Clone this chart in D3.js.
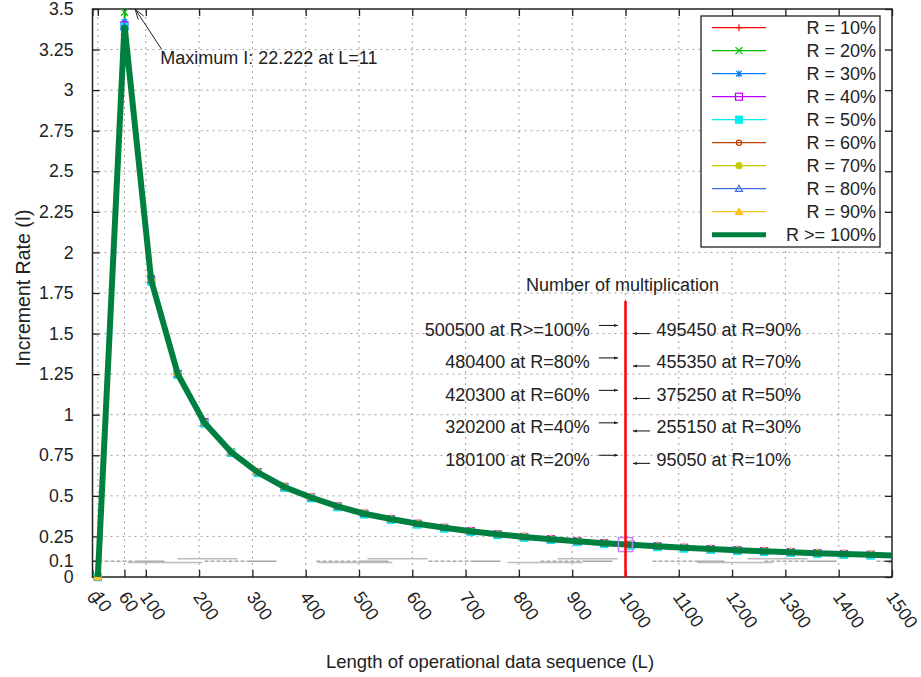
<!DOCTYPE html>
<html>
<head>
<meta charset="utf-8">
<script src="https://cdn.jsdelivr.net/npm/d3@7"></script>
<style>
  html, body { margin: 0; padding: 0; background: #fff; }
  svg { display: block; font-family: "Liberation Sans", Arial, sans-serif; }
</style>
</head>
<body>
<svg id="chart" width="921" height="677"></svg>
<script>
// ---------- data ----------
const lengths = [10, 60, 110, 160, 210, 260, 310, 360, 410, 460, 510, 560, 610, 660, 710,
                 760, 810, 860, 910, 960, 1010, 1060, 1110, 1160, 1210, 1260, 1310, 1360, 1410, 1460];
const r10 = [0, 3.38, 1.83, 1.25, 0.95, 0.77, 0.645, 0.555, 0.49, 0.435, 0.39, 0.357, 0.328, 0.303, 0.282,
             0.263, 0.247, 0.233, 0.22, 0.208, 0.198, 0.189, 0.18, 0.172, 0.165, 0.159, 0.153, 0.147, 0.142, 0.137];
const r20 = [0, 3.48, 1.84, 1.25, 0.95, 0.77, 0.645, 0.555, 0.49, 0.435, 0.39, 0.357, 0.328, 0.303, 0.282,
             0.263, 0.247, 0.233, 0.22, 0.208, 0.198, 0.189, 0.18, 0.172, 0.165, 0.159, 0.153, 0.147, 0.142, 0.137];
const r30 = [0, 3.42, 1.84, 1.25, 0.95, 0.77, 0.645, 0.555, 0.49, 0.435, 0.39, 0.357, 0.328, 0.303, 0.282,
             0.263, 0.247, 0.233, 0.22, 0.208, 0.198, 0.189, 0.18, 0.172, 0.165, 0.159, 0.153, 0.147, 0.142, 0.137];
const r40 = [0, 3.40, 1.83, 1.25, 0.955, 0.765, 0.645, 0.555, 0.49, 0.435, 0.39, 0.357, 0.328, 0.303, 0.282,
             0.263, 0.247, 0.233, 0.22, 0.208, 0.198, 0.189, 0.18, 0.172, 0.165, 0.159, 0.153, 0.147, 0.142, 0.137];
const r50 = [0, 3.39, 1.82, 1.245, 0.945, 0.765, 0.64, 0.55, 0.485, 0.43, 0.385, 0.352, 0.323, 0.298, 0.277,
             0.258, 0.242, 0.228, 0.215, 0.203, 0.193, 0.184, 0.175, 0.167, 0.16, 0.154, 0.148, 0.142, 0.137, 0.132];
const r60 = [0, 3.38, 1.83, 1.25, 0.95, 0.77, 0.645, 0.555, 0.49, 0.435, 0.39, 0.357, 0.328, 0.303, 0.282,
             0.263, 0.247, 0.233, 0.22, 0.208, 0.198, 0.189, 0.18, 0.172, 0.165, 0.159, 0.153, 0.147, 0.142, 0.137];
const r70 = [0, 3.37, 1.83, 1.25, 0.95, 0.77, 0.645, 0.555, 0.49, 0.435, 0.39, 0.357, 0.328, 0.303, 0.282,
             0.263, 0.247, 0.233, 0.22, 0.208, 0.198, 0.189, 0.18, 0.172, 0.165, 0.159, 0.153, 0.147, 0.142, 0.137];
const r80 = [0, 3.39, 1.83, 1.25, 0.95, 0.77, 0.645, 0.555, 0.49, 0.435, 0.39, 0.357, 0.328, 0.303, 0.282,
             0.263, 0.247, 0.233, 0.22, 0.208, 0.198, 0.189, 0.18, 0.172, 0.165, 0.159, 0.153, 0.147, 0.142, 0.137];
const r90 = [0, 3.36, 1.84, 1.26, 0.955, 0.775, 0.65, 0.56, 0.495, 0.44, 0.395, 0.362, 0.333, 0.308, 0.287,
             0.268, 0.252, 0.238, 0.225, 0.213, 0.203, 0.194, 0.185, 0.177, 0.17, 0.164, 0.158, 0.152, 0.147, 0.142];
const lengthsFull = [10, 60, 110, 160, 210, 260, 310, 360, 410, 460, 510, 560, 610, 660, 710,
                     760, 810, 860, 910, 960, 1010, 1060, 1110, 1160, 1210, 1260, 1310, 1360, 1410, 1460, 1500];
const r100 = [0, 3.40, 1.83, 1.25, 0.95, 0.77, 0.645, 0.555, 0.49, 0.435, 0.39, 0.357, 0.328, 0.303, 0.282,
              0.263, 0.247, 0.233, 0.22, 0.208, 0.198, 0.189, 0.18, 0.172, 0.165, 0.159, 0.153, 0.147, 0.142, 0.137, 0.133];

const seriesNames = ["R = 10%", "R = 20%", "R = 30%", "R = 40%", "R = 50%",
                     "R = 60%", "R = 70%", "R = 80%", "R = 90%", "R >= 100%"];
const seriesValues = [r10, r20, r30, r40, r50, r60, r70, r80, r90, r100];
const seriesColors = ["#ff0000", "#00c000", "#0080ff", "#c000ff", "#00eeee",
                      "#c04000", "#c8c800", "#4169e1", "#ffc020", "#008040"];
const seriesMarkers = ["plus", "cross", "star", "square", "squareFill",
                       "circle", "circleFill", "triangle", "triangleFill", "none"];

const xTicks = [0, 10, 60, 100, 200, 300, 400, 500, 600, 700, 800, 900, 1000, 1100, 1200, 1300, 1400, 1500];
const yTicks = [0, 0.1, 0.25, 0.5, 0.75, 1, 1.25, 1.5, 1.75, 2, 2.25, 2.5, 2.75, 3, 3.25, 3.5];

const leftNotes = ["500500 at R>=100%", "480400 at R=80%", "420300 at R=60%", "320200 at R=40%", "180100 at R=20%"];
const leftLevels = [1.55, 1.35, 1.15, 0.95, 0.75];
const rightNotes = ["495450 at R=90%", "455350 at R=70%", "375250 at R=50%", "255150 at R=30%", "95050 at R=10%"];
const rightLevels = [1.5, 1.3, 1.1, 0.9, 0.7];
const markLength = 1000, markTop = 1.7, markValue = 0.2;
const maxNote = "Maximum I: 22.222 at L=11";

// ---------- layout ----------
const svg = d3.select("#chart");
const x = d3.scaleLinear().domain([0, 1500]).range([92.5, 892]);
const y = d3.scaleLinear().domain([0, 3.5]).range([577, 9]);
const ink = "#222";

// grid
const grid = svg.append("g");
grid.selectAll("line.gx").data(xTicks.filter(t => t > 0 && t < 1500)).join("line")
  .attr("x1", d => x(d)).attr("x2", d => x(d)).attr("y1", y(0)).attr("y2", y(3.5))
  .attr("stroke", "#a0a0a0").attr("stroke-width", 1).attr("stroke-dasharray", "2,4");
grid.selectAll("line.gy").data(yTicks.filter(t => t > 0.1 && t < 3.5)).join("line")
  .attr("x1", x(0)).attr("x2", x(1500)).attr("y1", d => y(d)).attr("y2", d => y(d))
  .attr("stroke", "#a0a0a0").attr("stroke-width", 1).attr("stroke-dasharray", "2,4");
// messy band at 0.1
grid.append("line").attr("x1", x(0)).attr("x2", x(1500)).attr("y1", y(0.1) + 0.5).attr("y2", y(0.1) + 0.5)
  .attr("stroke", "#a8a8a8").attr("stroke-width", 1.4).attr("stroke-dasharray", "4,2,4,2,4,2,4,2,4,2,4,2,4,2,30,40");
grid.append("line").attr("x1", x(0)).attr("x2", x(1500)).attr("y1", y(0.1) - 2).attr("y2", y(0.1) - 2)
  .attr("stroke", "#bdbdbd").attr("stroke-width", 1.5).attr("stroke-dasharray", "0,85,60,45");
grid.append("line").attr("x1", x(0)).attr("x2", x(1500)).attr("y1", y(0.1) + 1.8).attr("y2", y(0.1) + 1.8)
  .attr("stroke", "#bdbdbd").attr("stroke-width", 1.5).attr("stroke-dasharray", "0,35,75,80");

// axes (inward ticks, mirrored)
const fmt = d => String(d);
const axB = svg.append("g").attr("transform", `translate(0,${y(0)})`)
  .call(d3.axisBottom(x).tickValues(xTicks).tickSize(-7).tickFormat(""));
const axT = svg.append("g").attr("transform", `translate(0,${y(3.5)})`)
  .call(d3.axisTop(x).tickValues(xTicks).tickSize(-7).tickFormat(""));
const axL = svg.append("g").attr("transform", `translate(${x(0)},0)`)
  .call(d3.axisLeft(y).tickValues(yTicks).tickSize(-7).tickPadding(19).tickFormat(fmt));
const axR = svg.append("g").attr("transform", `translate(${x(1500)},0)`)
  .call(d3.axisRight(y).tickValues(yTicks).tickSize(-7).tickFormat(""));
[axB, axT, axL, axR].forEach(a => {
  a.select(".domain").remove();
  a.selectAll(".tick line").attr("stroke", ink).attr("stroke-width", 1.3);
});
axL.selectAll(".tick text").attr("font-size", 17.7).attr("fill", ink)
  .attr("font-family", "'Liberation Sans', Arial, sans-serif");

// rotated x labels
axB.selectAll(".tick").append("text")
  .attr("font-size", 18).attr("fill", ink).attr("text-anchor", "start")
  .attr("font-family", "'Liberation Sans', Arial, sans-serif")
  .attr("transform", "translate(-7,20) rotate(55)")
  .text(d => fmt(d));

// frame
svg.append("rect").attr("x", x(0)).attr("y", y(3.5)).attr("width", x(1500) - x(0)).attr("height", y(0) - y(3.5))
  .attr("fill", "none").attr("stroke", ink).attr("stroke-width", 1.5);

// markers
function marker(g, type, color, cx, cy, s) {
  const h = s / 2;
  if (type === "plus") {
    g.append("path").attr("d", `M${cx - h},${cy}H${cx + h}M${cx},${cy - h}V${cy + h}`).attr("stroke", color).attr("stroke-width", 1.2);
  } else if (type === "cross") {
    g.append("path").attr("d", `M${cx - h},${cy - h}L${cx + h},${cy + h}M${cx - h},${cy + h}L${cx + h},${cy - h}`).attr("stroke", color).attr("stroke-width", 1.2);
  } else if (type === "star") {
    g.append("path").attr("d", `M${cx - h},${cy}H${cx + h}M${cx},${cy - h}V${cy + h}M${cx - h * 0.8},${cy - h * 0.8}L${cx + h * 0.8},${cy + h * 0.8}M${cx - h * 0.8},${cy + h * 0.8}L${cx + h * 0.8},${cy - h * 0.8}`).attr("stroke", color).attr("stroke-width", 1.2);
  } else if (type === "square" || type === "squareFill") {
    g.append("rect").attr("x", cx - h).attr("y", cy - h).attr("width", s).attr("height", s)
      .attr("fill", type === "squareFill" ? color : "none").attr("stroke", color).attr("stroke-width", 1.2);
  } else if (type === "circle" || type === "circleFill") {
    g.append("circle").attr("cx", cx).attr("cy", cy).attr("r", type === "circle" ? h * 0.75 : h * 0.85)
      .attr("fill", type === "circleFill" ? color : "none").attr("stroke", color).attr("stroke-width", 1.2);
  } else if (type === "triangle" || type === "triangleFill") {
    g.append("path").attr("d", `M${cx},${cy - h}L${cx + h},${cy + h * 0.75}L${cx - h},${cy + h * 0.75}Z`)
      .attr("fill", type === "triangleFill" ? color : "none").attr("stroke", color).attr("stroke-width", 1.2);
  }
}

// series
const plot = svg.append("g");
seriesNames.forEach((name, i) => {
  const vals = seriesValues[i];
  const xs = i === 9 ? lengthsFull : lengths;
  const pts = vals.map((v, j) => [xs[j], v]);
  plot.append("path").datum(pts)
    .attr("d", d3.line().x(d => x(d[0])).y(d => y(d[1])))
    .attr("fill", "none").attr("stroke", seriesColors[i])
    .attr("stroke-width", i === 9 ? 6 : 1.2).attr("stroke-linejoin", "miter");
  if (seriesMarkers[i] !== "none") {
    const mg = plot.append("g");
    pts.forEach(p => marker(mg, seriesMarkers[i], seriesColors[i], x(p[0]), y(p[1]), 7));
  }
});

// highlight square at L=1000
svg.append("rect").attr("x", x(markLength) - 7).attr("y", y(markValue) - 7).attr("width", 14).attr("height", 14)
  .attr("fill", "none").attr("stroke", "#c080ff").attr("stroke-width", 1.5);

// red line
svg.append("line").attr("x1", x(markLength)).attr("x2", x(markLength)).attr("y1", y(markTop)).attr("y2", y(0))
  .attr("stroke", "#ff0000").attr("stroke-width", 2.5);

// annotations
const ann = svg.append("g").attr("font-size", 18).attr("fill", ink);
ann.append("text").attr("x", x(markLength) - 3).attr("y", y(1.8)).attr("dy", "0.35em")
  .attr("text-anchor", "middle").text("Number of multiplication");
function smallArrow(x1, x2, yy) {
  ann.append("line").attr("x1", x1).attr("x2", x2).attr("y1", yy).attr("y2", yy).attr("stroke", ink).attr("stroke-width", 1.1);
  const dir = Math.sign(x2 - x1);
  ann.append("path").attr("d", `M${x2},${yy}L${x2 - dir * 4},${yy - 1.5}L${x2 - dir * 4},${yy + 1.5}Z`).attr("fill", ink);
}
leftNotes.forEach((t, i) => {
  ann.append("text").attr("x", x(933)).attr("y", y(leftLevels[i] - 0.025)).attr("dy", "0.35em")
    .attr("text-anchor", "end").text(t);
  smallArrow(x(950), x(986), y(leftLevels[i]));
});
rightNotes.forEach((t, i) => {
  ann.append("text").attr("x", x(1058)).attr("y", y(rightLevels[i] + 0.025)).attr("dy", "0.35em")
    .attr("text-anchor", "start").text(t);
  smallArrow(x(1046), x(1014), y(rightLevels[i]));
});

// maximum annotation
{
  const hx = x(80), hy = y(3.5), tx = x(130), ty = y(3.25);
  ann.append("line").attr("x1", tx).attr("y1", ty).attr("x2", hx).attr("y2", hy).attr("stroke", ink).attr("stroke-width", 1);
  const ang = Math.atan2(ty - hy, tx - hx), len = 11, spread = 0.3;
  ann.append("path")
    .attr("d", `M${hx + len * Math.cos(ang - spread)},${hy + len * Math.sin(ang - spread)}L${hx},${hy}L${hx + len * Math.cos(ang + spread)},${hy + len * Math.sin(ang + spread)}`)
    .attr("fill", "none").attr("stroke", ink).attr("stroke-width", 1);
  ann.append("text").attr("x", x(127)).attr("y", y(3.2)).attr("dy", "0.35em").text(maxNote);
}

// legend
const leg = svg.append("g");
leg.append("rect").attr("x", 701).attr("y", 16).attr("width", 179).attr("height", 231)
  .attr("fill", "#fff").attr("stroke", ink).attr("stroke-width", 1.3);
seriesNames.forEach((name, i) => {
  const cy = 27.7 + 23 * i;
  leg.append("line").attr("x1", 712).attr("x2", 766).attr("y1", cy).attr("y2", cy)
    .attr("stroke", seriesColors[i]).attr("stroke-width", i === 9 ? 5 : 1.3);
  if (seriesMarkers[i] !== "none") marker(leg, seriesMarkers[i], seriesColors[i], 739, cy, 7);
  leg.append("text").attr("x", 876).attr("y", cy).attr("dy", "0.35em").attr("text-anchor", "end")
    .attr("font-size", 18).attr("fill", ink).text(name);
});

// axis titles
svg.append("text").attr("x", 490).attr("y", 662).attr("dy", "0.35em").attr("text-anchor", "middle")
  .attr("font-size", 18.5).attr("fill", ink).text("Length of operational data sequence (L)");
svg.append("text").attr("transform", "translate(23,288) rotate(-90)").attr("dy", "0.35em").attr("text-anchor", "middle")
  .attr("font-size", 19.5).attr("fill", ink).text("Increment Rate (I)");
</script>
</body>
</html>
